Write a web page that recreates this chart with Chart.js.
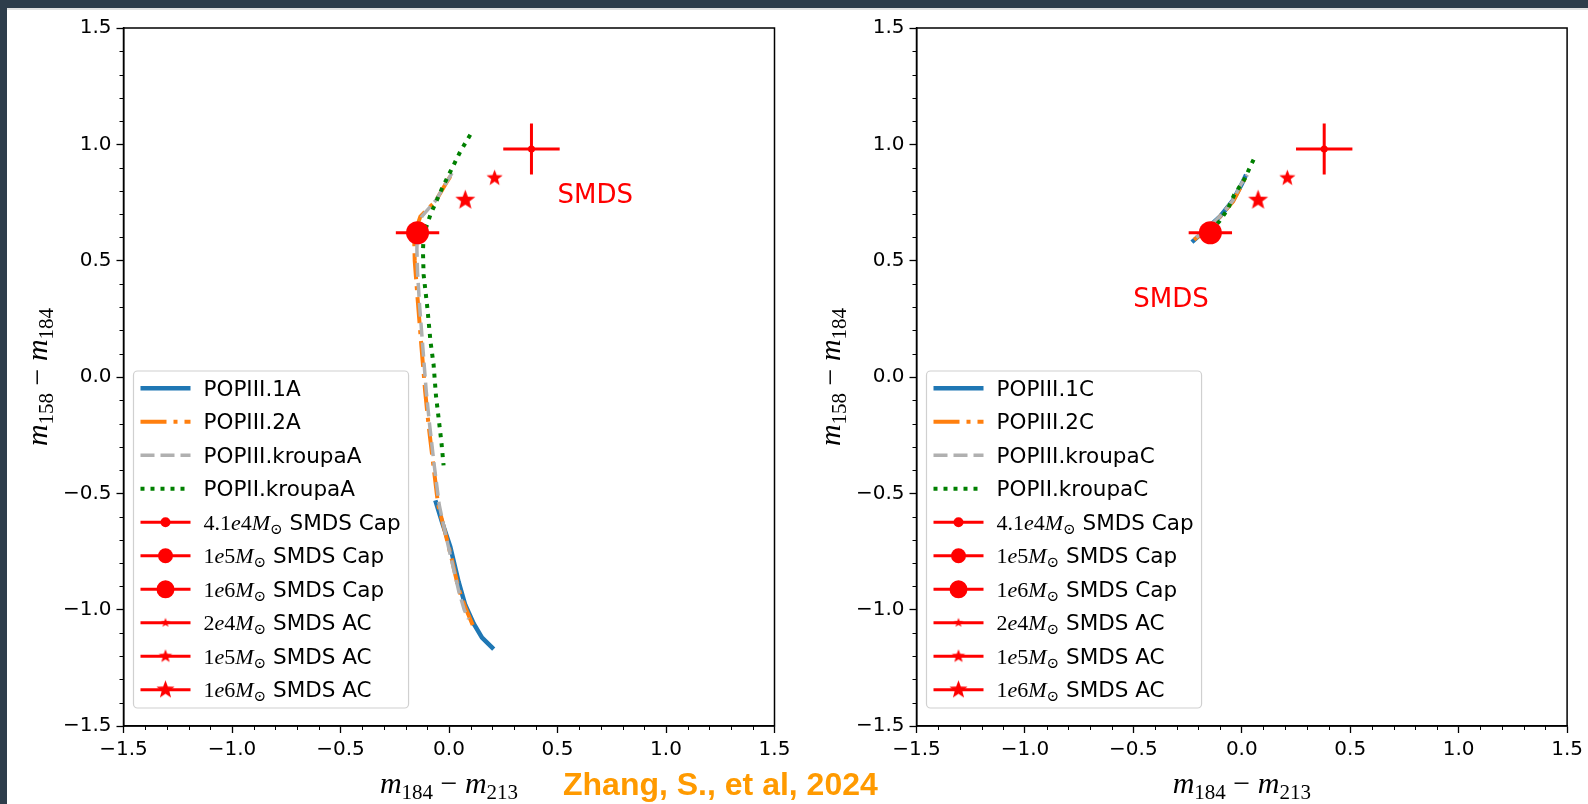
<!DOCTYPE html>
<html>
<head>
<meta charset="utf-8">
<title>SMDS colour-colour diagram</title>
<script src="https://cdn.jsdelivr.net/npm/chart.js@4.4.1/dist/chart.umd.min.js"></script>
<style>
  html, body { margin: 0; padding: 0; }
  body { width: 1588px; height: 804px; background: #2e3d4b; position: relative; overflow: hidden; }
  #sheet { position: absolute; left: 7px; top: 8px; width: 1581px; height: 796px; background: #fff; border-top: 2px solid #e2e2e2; box-sizing: border-box; }
  canvas { position: absolute; top: 9px; }
  #left { left: 7px; }
  #right { left: 797px; }
  #credit { position: absolute; left: 563px; top: 766px; font: bold 32px "Liberation Sans", Arial, sans-serif; color: #ff9a00; white-space: nowrap; }
</style>
</head>
<body>
<div id="sheet"></div>
<canvas id="left" width="790" height="795"></canvas>
<canvas id="right" width="791" height="795"></canvas>
<div id="credit">Zhang, S., et al, 2024</div>
<script>
// ---- values ----
const axisMin = -1.5;
const axisMax = 1.5;
const majorStep = 0.5;

const xBands = ["184", "213"];
const yBands = ["158", "184"];

// left panel ("A" tracks)
const namesA = ["POPIII.1A", "POPIII.2A", "POPIII.kroupaA", "POPII.kroupaA"];
const pop1A_x = [-0.063, -0.03, 0.006, 0.044, 0.075, 0.114, 0.152, 0.206];
const pop1A_y = [-0.53, -0.63, -0.73, -0.88, -0.98, -1.06, -1.12, -1.17];
const pop2A_x = [0.006, -0.009, -0.063, -0.132, -0.15, -0.16, -0.158, -0.145, -0.127, -0.11, -0.095, -0.072, -0.05, -0.02, 0.012, 0.044, 0.075, 0.12];
const pop2A_y = [0.862, 0.84, 0.754, 0.69, 0.64, 0.58, 0.5, 0.34, 0.13, -0.06, -0.2, -0.38, -0.55, -0.66, -0.78, -0.91, -0.99, -1.09];
const kroupa3A_x = [0.014, -0.01, -0.06, -0.125, -0.145, -0.148, -0.145, -0.135, -0.12, -0.105, -0.09, -0.068, -0.045, -0.015, 0.015, 0.045, 0.07, 0.09];
const kroupa3A_y = [0.876, 0.84, 0.76, 0.69, 0.63, 0.55, 0.45, 0.3, 0.12, -0.06, -0.2, -0.38, -0.55, -0.68, -0.8, -0.92, -1.0, -1.04];
const kroupa2A_x = [0.098, 0.052, 0.014, -0.032, -0.086, -0.117, -0.12, -0.117, -0.1, -0.085, -0.071, -0.06, -0.048, -0.035, -0.025];
const kroupa2A_y = [1.041, 0.969, 0.897, 0.811, 0.697, 0.611, 0.54, 0.44, 0.3, 0.15, 0.053, -0.08, -0.176, -0.28, -0.38];

// right panel ("C" tracks)
const namesC = ["POPIII.1C", "POPIII.2C", "POPIII.kroupaC", "POPII.kroupaC"];
const pop1C_x = [-0.23, -0.17, -0.1, -0.04, 0.0, 0.02];
const pop1C_y = [0.58, 0.63, 0.69, 0.76, 0.83, 0.87];
const pop2C_x = [-0.22, -0.16, -0.1, -0.04, -0.012, 0.01, 0.02];
const pop2C_y = [0.59, 0.635, 0.69, 0.755, 0.804, 0.845, 0.865];
const kroupa3C_x = [-0.21, -0.15, -0.09, -0.04, -0.005, 0.026];
const kroupa3C_y = [0.6, 0.645, 0.7, 0.76, 0.826, 0.869];
const kroupa2C_x = [-0.18, -0.14, -0.104, -0.066, -0.035, 0.011, 0.057];
const kroupa2C_y = [0.6, 0.635, 0.668, 0.719, 0.783, 0.848, 0.94];

// SMDS points (same in both panels)
const capX = [0.38, -0.145];
const capY = [0.98, 0.62];
const capXerr = [0.13, 0.1];
const capYerr = [0.11, 0];
const acX = [0.075, 0.21];
const acY = [0.76, 0.855];

// legend entries for the SMDS markers
const smdsMasses = ["4.1e4", "1e5", "1e6", "2e4", "1e5", "1e6"];
const smdsKinds = ["SMDS Cap", "SMDS Cap", "SMDS Cap", "SMDS AC", "SMDS AC", "SMDS AC"];

// "SMDS" annotation position per panel
const smdsTextX = [0.5, -0.5];
const smdsTextY = [0.75, 0.3];

// ---- styles ----
const red = "#ff0000";
const curveStyles = [
  { color: "#1f77b4", width: 4.5, dash: [] },
  { color: "#ff7f0e", width: 4, dash: [26, 7, 4, 7] },
  { color: "#b0b0b0", width: 3.5, dash: [14, 6] },
  { color: "#008000", width: 4, dash: [4, 6] },
];
const legendCircleR = [5, 7.5, 9];
const legendStarR = [5, 7, 9.5];
const sans = '"DejaVu Sans", sans-serif';
const serif = '"Liberation Serif", "DejaVu Serif", serif';
const legendFont = "21.5px " + sans;

function starImage(r) {
  const s = Math.ceil(r * 2 + 2);
  const c = document.createElement("canvas");
  c.width = s;
  c.height = s;
  const g = c.getContext("2d");
  g.fillStyle = red;
  g.beginPath();
  for (let i = 0; i < 10; i++) {
    const rr = i % 2 ? r * 0.42 : r;
    const ang = -Math.PI / 2 + (i * Math.PI) / 5;
    g.lineTo(s / 2 + rr * Math.cos(ang), s / 2 + rr * Math.sin(ang));
  }
  g.closePath();
  g.fill();
  return c;
}

function pts(xs, ys) {
  return xs.map((x, i) => ({ x: x, y: ys[i] }));
}

function fmt(v) {
  return v.toFixed(1).replace("-", "\u2212");
}

// text made of runs with their own font: [{t, font, dy}]
function runsWidth(ctx, runs) {
  let w = 0;
  runs.forEach((r) => {
    ctx.font = r.font;
    w += ctx.measureText(r.t).width;
  });
  return w;
}
function drawRuns(ctx, runs, x, y) {
  runs.forEach((r) => {
    ctx.font = r.font;
    ctx.fillText(r.t, x, y + (r.dy || 0));
    x += ctx.measureText(r.t).width;
  });
  return x;
}

function titleRuns(bands) {
  const big = "30px " + serif;
  const it = "italic 30px " + serif;
  const sub = "21px " + serif;
  return [
    { t: "m", font: it },
    { t: bands[0], font: sub, dy: 6 },
    { t: " \u2212 ", font: big },
    { t: "m", font: it },
    { t: bands[1], font: sub, dy: 6 },
  ];
}

function massRuns(mass, kind) {
  const up = "22px " + serif;
  const it = "italic 22px " + serif;
  const runs = [];
  for (const ch of mass) {
    runs.push({ t: ch, font: /[a-z]/.test(ch) ? it : up });
  }
  runs.push({ t: "M", font: it });
  runs.push({ t: "\u2299", font: "15px " + serif, dy: 4 });
  runs.push({ t: " " + kind, font: legendFont });
  return runs;
}

function drawLegend(ctx, a, names) {
  const rowH = 33.5;
  const left = a.left + 10;
  const bottom = a.bottom - 18;
  const top = bottom - 337;
  const entries = names.map((n) => [{ t: n, font: legendFont }]);
  smdsMasses.forEach((m, i) => entries.push(massRuns(m, smdsKinds[i])));
  let maxW = 0;
  entries.forEach((e) => (maxW = Math.max(maxW, runsWidth(ctx, e))));
  const width = 70 + maxW + 8;

  ctx.save();
  ctx.beginPath();
  ctx.roundRect(left, top, width, bottom - top, 4);
  ctx.fillStyle = "rgba(255,255,255,0.85)";
  ctx.fill();
  ctx.strokeStyle = "#d0d0d0";
  ctx.lineWidth = 1.2;
  ctx.stroke();

  entries.forEach((runs, i) => {
    const cy = top + 17.3 + i * rowH;
    const x0 = left + 7;
    const x1 = left + 57;
    ctx.beginPath();
    ctx.moveTo(x0, cy);
    ctx.lineTo(x1, cy);
    if (i < 4) {
      const st = curveStyles[i];
      ctx.strokeStyle = st.color;
      ctx.lineWidth = st.width;
      ctx.setLineDash(st.dash);
    } else {
      ctx.strokeStyle = red;
      ctx.lineWidth = 3;
      ctx.setLineDash([]);
    }
    ctx.lineCap = "butt";
    ctx.stroke();
    ctx.setLineDash([]);
    const k = i - 4;
    if (k >= 0 && k < 3) {
      ctx.beginPath();
      ctx.arc((x0 + x1) / 2, cy, legendCircleR[k], 0, Math.PI * 2);
      ctx.fillStyle = red;
      ctx.fill();
    } else if (k >= 3) {
      const img = starImage(legendStarR[k - 3]);
      ctx.drawImage(img, (x0 + x1) / 2 - img.width / 2, cy - img.height / 2);
    }
    ctx.fillStyle = "#000";
    ctx.textBaseline = "alphabetic";
    ctx.textAlign = "left";
    drawRuns(ctx, runs, left + 70, cy + 7.5);
  });
  ctx.restore();
}

const decorPlugin = {
  id: "decor",
  afterDatasetsDraw(chart) {
    const { ctx, scales } = chart;
    const p = chart.options.plugins.decor;
    ctx.save();
    ctx.fillStyle = red;
    ctx.font = "26px " + sans;
    ctx.textAlign = "left";
    ctx.textBaseline = "alphabetic";
    ctx.fillText("SMDS", scales.x.getPixelForValue(smdsTextX[p.panel]), scales.y.getPixelForValue(smdsTextY[p.panel]));
    ctx.restore();
  },
  afterDraw(chart) {
    const { ctx, chartArea: a, scales } = chart;
    const p = chart.options.plugins.decor;
    ctx.save();
    // full frame
    ctx.strokeStyle = "#000";
    ctx.lineWidth = 1.5;
    ctx.strokeRect(a.left, a.top, a.right - a.left, a.bottom - a.top);
    // minor ticks every 0.1
    ctx.lineWidth = 1;
    ctx.beginPath();
    for (let i = Math.round(axisMin * 10); i <= Math.round(axisMax * 10); i++) {
      if (i % 5 === 0) continue;
      const px = Math.round(scales.x.getPixelForValue(i / 10)) + 0.5;
      ctx.moveTo(px, a.bottom);
      ctx.lineTo(px, a.bottom + 4);
      const py = Math.round(scales.y.getPixelForValue(i / 10)) + 0.5;
      ctx.moveTo(a.left, py);
      ctx.lineTo(a.left - 4, py);
    }
    ctx.stroke();

    // axis titles
    ctx.fillStyle = "#000";
    ctx.textBaseline = "alphabetic";
    ctx.textAlign = "left";
    const xr = titleRuns(xBands);
    const xw = runsWidth(ctx, xr);
    drawRuns(ctx, xr, (a.left + a.right) / 2 - xw / 2, a.bottom + 67);
    const yr = titleRuns(yBands);
    const yw = runsWidth(ctx, yr);
    ctx.translate(a.left - 77, (a.top + a.bottom) / 2);
    ctx.rotate(-Math.PI / 2);
    drawRuns(ctx, yr, -yw / 2, 0);
    ctx.restore();

    drawLegend(ctx, a, p.names);
  },
};

function makePanel(id, panel, names, curves, yAxisW, padRight) {
  const datasets = curves.map((c, i) => ({
    label: names[i],
    data: pts(c[0], c[1]),
    showLine: true,
    pointRadius: 0,
    borderColor: curveStyles[i].color,
    borderWidth: curveStyles[i].width,
    borderDash: curveStyles[i].dash,
    borderCapStyle: "butt",
    tension: 0,
    order: 6 - i,
  }));
  // error bars
  capX.forEach((x, i) => {
    datasets.push({
      label: "xerr" + i,
      data: [{ x: x - capXerr[i], y: capY[i] }, { x: x + capXerr[i], y: capY[i] }],
      showLine: true, pointRadius: 0, borderColor: red, borderWidth: 3, order: 2,
    });
    if (capYerr[i] > 0) {
      datasets.push({
        label: "yerr" + i,
        data: [{ x: x, y: capY[i] - capYerr[i] }, { x: x, y: capY[i] + capYerr[i] }],
        showLine: true, pointRadius: 0, borderColor: red, borderWidth: 3, order: 2,
      });
    }
  });
  datasets.push({
    label: "SMDS Cap",
    data: pts(capX, capY),
    showLine: false,
    pointRadius: [3.5, 11.5],
    pointBackgroundColor: red,
    pointBorderWidth: 0,
    order: 1,
  });
  datasets.push({
    label: "SMDS AC",
    data: pts(acX, acY),
    showLine: false,
    pointStyle: [starImage(10.5), starImage(8.5)],
    pointRadius: 10,
    order: 1,
  });

  const axis = (isX) => ({
    type: "linear",
    min: axisMin,
    max: axisMax,
    ticks: {
      stepSize: majorStep,
      callback: (v) => fmt(v),
      font: { family: "DejaVu Sans", size: 20 },
      color: "#000",
      padding: isX ? 5 : 5,
      maxRotation: 0,
    },
    grid: { drawOnChartArea: false, drawTicks: true, tickLength: 7, color: "#000", tickWidth: 1.3 },
    border: { color: "#000", width: 1.5 },
    afterFit: (s) => {
      if (isX) s.height = 78;
      else s.width = yAxisW;
    },
  });

  new Chart(document.getElementById(id).getContext("2d"), {
    type: "scatter",
    data: { datasets: datasets },
    options: {
      responsive: false,
      animation: false,
      events: [],
      layout: { padding: { left: 0, right: padRight, top: 19, bottom: 0 } },
      plugins: {
        legend: { display: false },
        tooltip: { enabled: false },
        decor: { panel: panel, names: names },
      },
      scales: { x: axis(true), y: axis(false) },
    },
    plugins: [decorPlugin],
  });
}

makePanel("left", 0, namesA,
  [[pop1A_x, pop1A_y], [pop2A_x, pop2A_y], [kroupa3A_x, kroupa3A_y], [kroupa2A_x, kroupa2A_y]],
  116.5, 22.5);
makePanel("right", 1, namesC,
  [[pop1C_x, pop1C_y], [pop2C_x, pop2C_y], [kroupa3C_x, kroupa3C_y], [kroupa2C_x, kroupa2C_y]],
  119.5, 19.5);
</script>
</body>
</html>
